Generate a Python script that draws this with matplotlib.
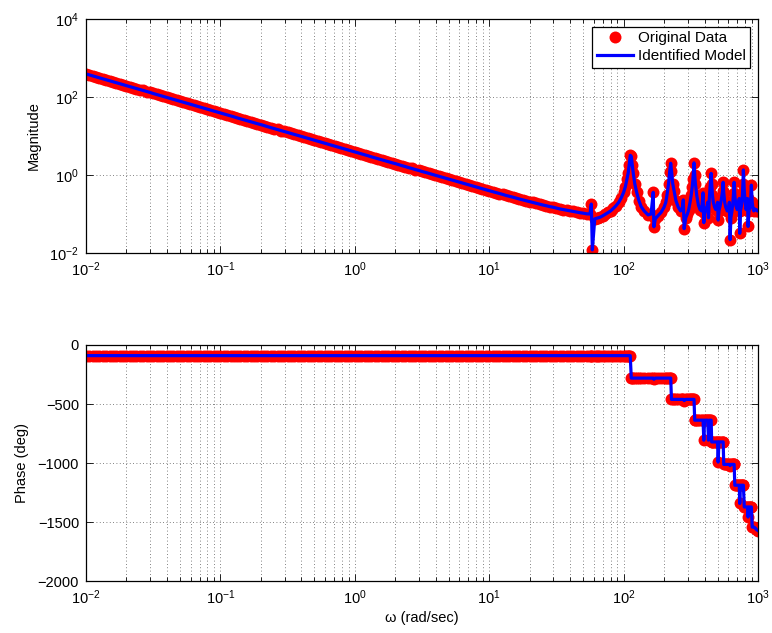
"""Bode plot: measured frequency response vs identified model (magnitude + phase)."""
import matplotlib

matplotlib.use("Agg")
import matplotlib.pyplot as plt
from matplotlib.ticker import LogFormatterMathtext, LogLocator, NullFormatter, NullLocator

plt.rcParams["font.family"] = ["Liberation Sans", "DejaVu Sans"]
plt.rcParams["font.size"] = 10.5
plt.rcParams["mathtext.fontset"] = "custom"
plt.rcParams["mathtext.rm"] = "Liberation Sans"
plt.rcParams["mathtext.it"] = "Liberation Sans:italic"

# --- values ---------------------------------------------------------------
# frequency points (rad/sec)
omega = [
    # 0.01 .. 0.1
    0.0100, 0.0106, 0.0112, 0.0119, 0.0126, 0.0133, 0.0141, 0.0150, 0.0158, 0.0168,
    0.0178, 0.0188, 0.0200, 0.0211, 0.0224, 0.0237, 0.0251, 0.0266, 0.0282, 0.0299,
    0.0316, 0.0335, 0.0355, 0.0376, 0.0398, 0.0422, 0.0447, 0.0473, 0.0501, 0.0531,
    0.0562, 0.0596, 0.0631, 0.0668, 0.0708, 0.0750, 0.0794, 0.0841, 0.0891, 0.0944,
    # 0.1 .. 1
    0.100, 0.106, 0.112, 0.119, 0.126, 0.133, 0.141, 0.150, 0.158, 0.168,
    0.178, 0.188, 0.200, 0.211, 0.224, 0.237, 0.251, 0.266, 0.282, 0.299,
    0.316, 0.335, 0.355, 0.376, 0.398, 0.422, 0.447, 0.473, 0.501, 0.531,
    0.562, 0.596, 0.631, 0.668, 0.708, 0.750, 0.794, 0.841, 0.891, 0.944,
    # 1 .. 10
    1.00, 1.06, 1.12, 1.19, 1.26, 1.33, 1.41, 1.50, 1.58, 1.68,
    1.78, 1.88, 2.00, 2.11, 2.24, 2.37, 2.51, 2.66, 2.82, 2.99,
    3.16, 3.35, 3.55, 3.76, 3.98, 4.22, 4.47, 4.73, 5.01, 5.31,
    5.62, 5.96, 6.31, 6.68, 7.08, 7.50, 7.94, 8.41, 8.91, 9.44,
    # 10 .. 50
    10.0, 10.6, 11.2, 11.9, 12.6, 13.3, 14.1, 15.0, 15.8, 16.8,
    17.8, 18.8, 20.0, 21.1, 22.4, 23.7, 25.1, 26.6, 28.2, 29.9,
    31.6, 33.5, 35.5, 37.6, 39.8, 42.2, 44.7, 47.3, 50.1,
    # notch and first resonance
    53.1, 56.2, 57.5, 58.5, 61, 63, 65, 67, 70, 73, 77, 80, 84, 88, 92, 96,
    100, 103, 106, 108, 110, 112,
    114, 116, 118, 121, 125, 130, 135, 142, 152, 160, 166, 168, 172, 180,
    190, 200, 206, 210, 216, 220, 224,
    227, 232, 237, 245, 255, 265, 272, 278, 282, 290, 298, 305, 312, 318,
    324, 328, 334,
    338, 342, 350, 360, 370, 380, 390, 395, 400, 408, 415, 422, 428, 434,
    440, 448,
    452, 458, 465, 475, 485, 495, 500, 505, 512, 522, 535, 545, 550,
    556, 565, 575, 590, 600, 612, 620, 628, 640, 650, 658, 664,
    672, 685, 700, 712, 725, 731, 740, 752, 765, 772, 778,
    790, 802, 815, 825, 835, 843, 855, 868, 880, 892,
    905, 918, 930, 944, 958, 970, 985, 1000,
]

magnitude = [
    390, 368, 348, 328, 310, 292, 276, 261, 246, 232,
    219, 207, 196, 185, 174, 164, 155, 147, 138, 131,
    123, 116, 110, 104, 98.0, 92.5, 87.3, 82.4, 77.8, 73.5,
    69.4, 65.5, 61.8, 58.4, 55.1, 52.0, 49.1, 46.4, 43.8, 41.3,
    39.0, 36.8, 34.8, 32.8, 31.0, 29.2, 27.6, 26.1, 24.6, 23.2,
    21.9, 20.7, 19.6, 18.5, 17.4, 16.4, 15.5, 14.7, 13.8, 13.1,
    12.3, 11.6, 11.0, 10.4, 9.80, 9.25, 8.73, 8.24, 7.78, 7.35,
    6.94, 6.55, 6.18, 5.84, 5.51, 5.20, 4.91, 4.64, 4.38, 4.13,
    3.90, 3.68, 3.48, 3.28, 3.10, 2.92, 2.76, 2.61, 2.46, 2.32,
    2.19, 2.07, 1.96, 1.85, 1.74, 1.65, 1.55, 1.47, 1.38, 1.31,
    1.23, 1.17, 1.10, 1.04, 0.983, 0.928, 0.876, 0.828, 0.782, 0.739,
    0.698, 0.660, 0.622, 0.589, 0.556, 0.526, 0.497, 0.470, 0.444, 0.419,
    0.396, 0.375, 0.355, 0.335, 0.318, 0.300, 0.285, 0.270, 0.256, 0.242,
    0.230, 0.219, 0.208, 0.198, 0.188, 0.178, 0.170, 0.163, 0.155, 0.149,
    0.142, 0.135, 0.130, 0.125, 0.120, 0.116, 0.112, 0.108, 0.105,
    0.101, 0.100, 0.180, 0.012, 0.075, 0.078, 0.080, 0.083, 0.090, 0.098,
    0.110, 0.120, 0.140, 0.165, 0.200, 0.260, 0.360, 0.500, 0.800, 1.10,
    1.80, 3.20,
    3.00, 1.80, 1.10, 0.600, 0.360, 0.220, 0.155, 0.120, 0.095, 0.100,
    0.360, 0.047, 0.075, 0.090, 0.110, 0.150, 0.200, 0.300, 0.600, 1.20, 2.00,
    1.30, 0.600, 0.400, 0.220, 0.150, 0.120, 0.130, 0.230, 0.042, 0.080,
    0.100, 0.130, 0.200, 0.300, 0.500, 0.800, 2.05,
    1.00, 0.600, 0.300, 0.170, 0.130, 0.120, 0.350, 0.060, 0.100, 0.140,
    0.140, 0.200, 0.080, 0.250, 0.500, 1.10,
    0.600, 0.300, 0.200, 0.150, 0.130, 0.150, 0.200, 0.070, 0.120, 0.160,
    0.250, 0.400, 0.650,
    0.350, 0.200, 0.150, 0.120, 0.120, 0.200, 0.022, 0.080, 0.120, 0.200,
    0.350, 0.650,
    0.300, 0.160, 0.130, 0.150, 0.250, 0.032, 0.120, 0.160, 0.300, 0.600, 1.35,
    0.400, 0.200, 0.130, 0.160, 0.250, 0.048, 0.120, 0.140, 0.200, 0.550,
    0.200, 0.140, 0.120, 0.135, 0.130, 0.130, 0.120, 0.120,
]

phase_deg = [
    -90, -90, -90, -90, -90, -90, -90, -90, -90, -90,
    -90, -90, -90, -90, -90, -90, -90, -90, -90, -90,
    -90, -90, -90, -90, -90, -90, -90, -90, -90, -90,
    -90, -90, -90, -90, -90, -90, -90, -90, -90, -90,
    -90, -90, -90, -90, -90, -90, -90, -90, -90, -90,
    -90, -90, -90, -90, -90, -90, -90, -90, -90, -90,
    -90, -90, -90, -90, -90, -90, -90, -90, -90, -90,
    -90, -90, -90, -90, -90, -90, -90, -90, -90, -90,
    -90, -90, -90, -90, -90, -90, -90, -90, -90, -90,
    -90, -90, -90, -90, -90, -90, -90, -90, -90, -90,
    -90, -90, -90, -90, -90, -90, -90, -90, -90, -90,
    -90, -90, -90, -90, -90, -90, -90, -90, -90, -90,
    -90, -90, -90, -90, -90, -90, -90, -90, -90, -90,
    -90, -90, -90, -90, -90, -90, -90, -90, -90, -90,
    -90, -90, -90, -90, -90, -90, -90, -90, -90,
    -90, -90, -90, -90, -90, -90, -90, -90, -90, -90,
    -90, -90, -90, -90, -90, -90, -90, -90, -90, -90,
    -90, -90,
    -280, -280, -280, -280, -280, -280, -280, -280, -280, -280,
    -280, -290, -280, -280, -280, -280, -280, -280, -280, -280, -280,
    -460, -460, -460, -460, -460, -460, -460, -460, -470, -460,
    -460, -460, -460, -460, -460, -460, -460,
    -636, -636, -636, -636, -636, -636, -636, -805, -636, -636,
    -636, -636, -805, -636, -636, -636,
    -820, -820, -820, -820, -820, -820, -820, -990, -820, -820,
    -820, -820, -820,
    -1010, -1010, -1010, -1010, -1010, -1010, -1020, -1010, -1010, -1010,
    -1010, -1010,
    -1186, -1186, -1186, -1186, -1186, -1340, -1186, -1186, -1186, -1186, -1186,
    -1370, -1370, -1370, -1370, -1370, -1455, -1370, -1370, -1370, -1370,
    -1540, -1540, -1540, -1545, -1550, -1560, -1565, -1570,
]

assert len(omega) == len(magnitude) == len(phase_deg)

mag_ticks = [1e-2, 1e0, 1e2, 1e4]
phase_ticks = [0, -500, -1000, -1500, -2000]

DOT = dict(color="#ff0000", marker="o", markersize=8.6, linestyle="none",
           markeredgewidth=0)
LINE = dict(color="#0000ff", linewidth=2.3)
GRID = dict(color="0.35", linestyle=(0, (1, 3)), linewidth=0.6)


def style_axes(ax):
    ax.set_xscale("log")
    ax.set_xlim(1e-2, 1e3)
    ax.xaxis.set_major_locator(LogLocator(base=10, numticks=10))
    ax.xaxis.set_minor_locator(LogLocator(base=10, subs=range(2, 10), numticks=20))
    ax.xaxis.set_major_formatter(LogFormatterMathtext())
    ax.xaxis.set_minor_formatter(NullFormatter())
    ax.tick_params(which="both", direction="in", top=True, right=True, width=0.6)
    ax.tick_params(which="major", length=5, pad=5)
    ax.tick_params(which="minor", length=3)
    ax.grid(True, which="major", axis="both", **GRID)
    ax.grid(True, which="minor", axis="x", **GRID)
    for sp in ax.spines.values():
        sp.set_linewidth(0.9)
    ax.set_axisbelow(True)


fig = plt.figure(figsize=(7.72, 6.33), dpi=100)
ax1 = fig.add_axes([0.1114, 0.6003, 0.8705, 0.3697])
ax2 = fig.add_axes([0.1114, 0.0814, 0.8705, 0.3736])

# magnitude
style_axes(ax1)
ax1.set_yscale("log")
ax1.set_ylim(1e-2, 1e4)
ax1.set_yticks(mag_ticks)
ax1.yaxis.set_minor_locator(NullLocator())
ax1.yaxis.set_major_formatter(LogFormatterMathtext())
ax1.plot(omega, magnitude, label="Original Data", **DOT)
ax1.plot(omega, magnitude, label="Identified Model", **LINE)
ax1.set_ylabel("Magnitude", labelpad=6)
leg = ax1.legend(loc="upper right", fancybox=False, framealpha=1, fontsize=11,
                 edgecolor="black", borderaxespad=0.5, handlelength=2.4,
                 borderpad=0.3, labelspacing=0.28, handletextpad=0.3)
leg.get_frame().set_linewidth(0.9)

# phase
style_axes(ax2)
ax2.set_ylim(-2000, 0)
ax2.set_yticks(phase_ticks)
ax2.plot(omega, phase_deg, **DOT)
ax2.plot(omega, phase_deg, **LINE)
ax2.set_ylabel("Phase (deg)", labelpad=6)
ax2.set_xlabel("\u03c9 (rad/sec)", labelpad=3)

fig.savefig("out.png", dpi=100)
